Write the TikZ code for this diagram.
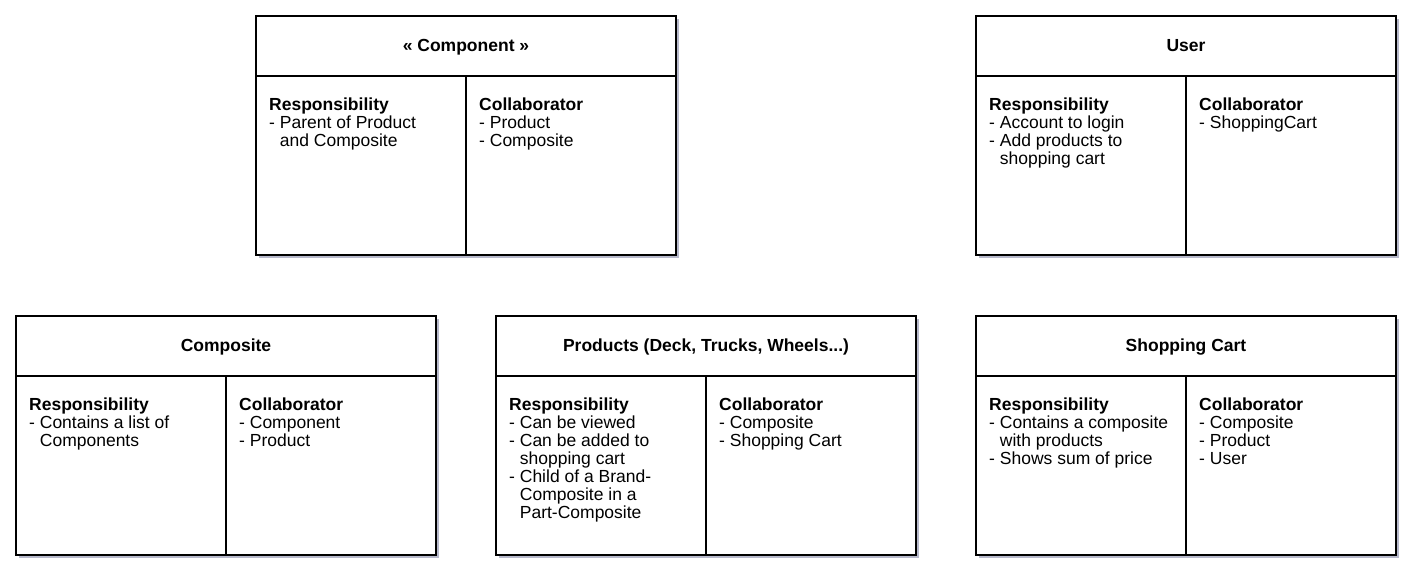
\documentclass[tikz,border=0pt]{standalone}
\usepackage{fontspec}
\setmainfont{Liberation Sans}
\usetikzlibrary{shadows}

\definecolor{shadowgray}{RGB}{165,168,190}

\tikzset{
  card/.style={draw=black, line width=1.2pt, fill=white,
    drop shadow={shadow xshift=3pt, shadow yshift=-3pt, fill=shadowgray, opacity=0.8}},
  rule/.style={draw=black, line width=1.2pt},
  title/.style={anchor=base, inner sep=0pt, font=\fontsize{17.5}{18}\selectfont\bfseries},
  cell/.style={anchor=north west, align=left, inner sep=0pt, font=\fontsize{17.5}{18}\selectfont}
}

\begin{document}
\begin{tikzpicture}[x=1pt, y=-1pt]
    \useasboundingbox (0,0) rectangle (1421,581);
    % component
    \begin{scope}[shift={(256,16)}]
      \draw[card] (0,0) rectangle (420,239);
      \draw[rule] (0,60) -- (420,60);
      \draw[rule] (210,60) -- (210,239);
      \node[title] (comp-t) at (210,35) {« Component »};
      \node[cell] (comp-r) at (13,81.5) {\textbf{Responsibility}\\- Parent of Product\\\phantom{- }and Composite};
      \node[cell] (comp-c) at (223,81.5) {\textbf{Collaborator}\\- Product\\- Composite};
    \end{scope}
    % user
    \begin{scope}[shift={(976,16)}]
      \draw[card] (0,0) rectangle (420,239);
      \draw[rule] (0,60) -- (420,60);
      \draw[rule] (210,60) -- (210,239);
      \node[title] (user-t) at (210,35) {User};
      \node[cell] (user-r) at (13,81.5) {\textbf{Responsibility}\\- Account to login\\- Add products to\\\phantom{- }shopping cart};
      \node[cell] (user-c) at (223,81.5) {\textbf{Collaborator}\\- ShoppingCart};
    \end{scope}
    % composite
    \begin{scope}[shift={(16,316)}]
      \draw[card] (0,0) rectangle (420,239);
      \draw[rule] (0,60) -- (420,60);
      \draw[rule] (210,60) -- (210,239);
      \node[title] (compo-t) at (210,35) {Composite};
      \node[cell] (compo-r) at (13,81.5) {\textbf{Responsibility}\\- Contains a list of\\\phantom{- }Components};
      \node[cell] (compo-c) at (223,81.5) {\textbf{Collaborator}\\- Component\\- Product};
    \end{scope}
    % products
    \begin{scope}[shift={(496,316)}]
      \draw[card] (0,0) rectangle (420,239);
      \draw[rule] (0,60) -- (420,60);
      \draw[rule] (210,60) -- (210,239);
      \node[title] (prod-t) at (210,35) {Products (Deck, Trucks, Wheels...)};
      \node[cell] (prod-r) at (13,81.5) {\textbf{Responsibility}\\- Can be viewed\\- Can be added to\\\phantom{- }shopping cart\\- Child of a Brand-\\\phantom{- }Composite in a\\\phantom{- }Part-Composite};
      \node[cell] (prod-c) at (223,81.5) {\textbf{Collaborator}\\- Composite\\- Shopping Cart};
    \end{scope}
    % shopping cart
    \begin{scope}[shift={(976,316)}]
      \draw[card] (0,0) rectangle (420,239);
      \draw[rule] (0,60) -- (420,60);
      \draw[rule] (210,60) -- (210,239);
      \node[title] (cart-t) at (210,35) {Shopping Cart};
      \node[cell] (cart-r) at (13,81.5) {\textbf{Responsibility}\\- Contains a composite\\\phantom{- }with products\\- Shows sum of price};
      \node[cell] (cart-c) at (223,81.5) {\textbf{Collaborator}\\- Composite\\- Product\\- User};
    \end{scope}
  \end{tikzpicture}
\end{document}
